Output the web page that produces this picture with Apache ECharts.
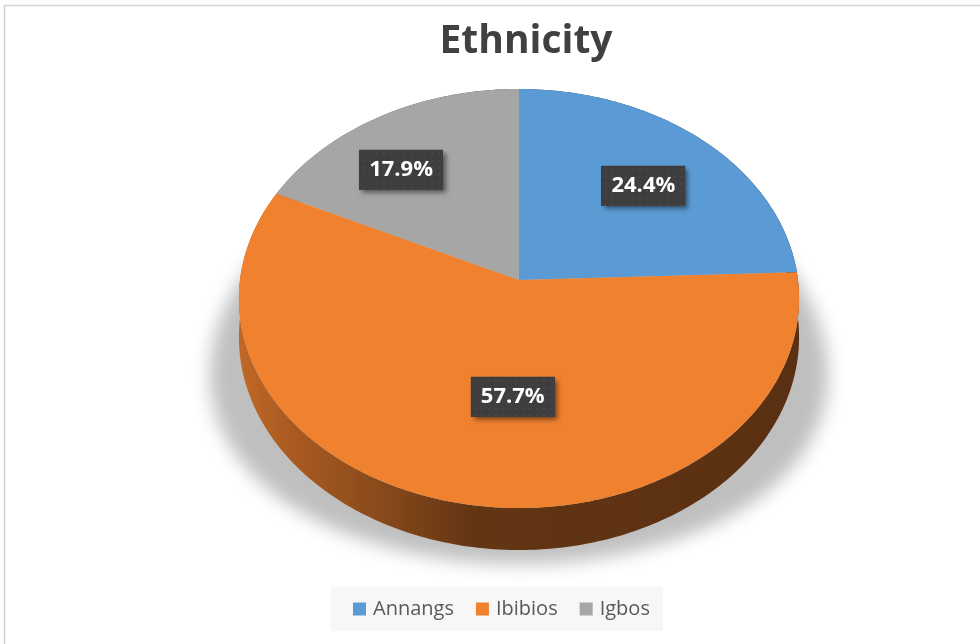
<!DOCTYPE html>
<html>
<head>
<meta charset="utf-8">
<title>Ethnicity</title>
<script src="https://cdn.jsdelivr.net/npm/echarts@6/dist/echarts.min.js"></script>
<style>
  html, body { margin: 0; padding: 0; background: #ffffff; }
  #chart { width: 980px; height: 644px; }
</style>
</head>
<body>
<div id="chart"></div>
<script>
// Ethnic groups and their share of respondents (%)
const categories = ['Annangs', 'Ibibios', 'Igbos'];
const shares = [24.4, 57.7, 17.9];
const sliceColors = ['#5b9bd5', '#f0812f', '#a6a6a6'];

// Tilted-disc geometry (perspective projection of a flat circular pie)
const GEO = { cx: 519, cy: 280, A: 279, B: 207.9, e: 0.0883, depth: 38.3 };
// Small offsets for the value boxes relative to each slice's mid-angle anchor
const labelNudge = [[0, 2], [34, -28], [-23, 2]];

const total = shares.reduce((s, v) => s + v, 0);
const startOf = shares.map((_, i) => shares.slice(0, i).reduce((s, v) => s + v, 0));

// angle: radians clockwise from the far (top) point; r: radius fraction; dz: drop below top face
function project(angle, r, dz) {
  const X = Math.sin(angle) * r;
  const Y = -Math.cos(angle) * r;
  const w = 1 - GEO.e * Y;
  return [GEO.cx + GEO.A * X / w, GEO.cy + (GEO.B * Y + (dz || 0)) / w];
}

function arcPoints(a, b, r, dz) {
  const n = Math.max(4, Math.ceil((b - a) / (Math.PI / 180)));
  const pts = [];
  for (let k = 0; k <= n; k++) pts.push(project(a + (b - a) * k / n, r, dz));
  return pts;
}

function shade(hex, f) {
  const n = parseInt(hex.slice(1), 16);
  const c = [(n >> 16) & 255, (n >> 8) & 255, n & 255].map(v => Math.round(v * f));
  return 'rgb(' + c.join(',') + ')';
}

function sideGradient(color) {
  return new echarts.graphic.LinearGradient(GEO.cx - GEO.A, 0, GEO.cx + GEO.A, 0, [
    { offset: 0, color: shade(color, 0.80) },
    { offset: 0.1, color: shade(color, 0.70) },
    { offset: 0.25, color: shade(color, 0.57) },
    { offset: 0.42, color: shade(color, 0.41) },
    { offset: 1, color: shade(color, 0.375) }
  ], true);
}

// Dark, finely dotted fill used behind the value labels
function dottedTile(w, h) {
  const c = document.createElement('canvas');
  c.width = w; c.height = h;
  const g = c.getContext('2d');
  g.fillStyle = '#3e3e3e';
  g.fillRect(0, 0, w, h);
  g.fillStyle = '#484848';
  for (let y = 3; y < h; y += 7) {
    for (let x = 3; x < w; x += 7) g.fillRect(x, y, 2, 2);
  }
  return c;
}
const labelTile = dottedTile(85, 40);

function labelStyle(text, withTile) {
  return {
    text: text,
    fill: withTile ? '#ffffff' : 'rgba(0,0,0,0)',
    font: 'bold 22px "Open Sans", sans-serif',
    align: 'center',
    verticalAlign: 'middle',
    lineHeight: 24,
    padding: [8, 10, 8, 10],
    backgroundColor: withTile ? { image: labelTile } : '#3e3e3e',
    shadowBlur: withTile ? 0 : 5,
    shadowColor: 'rgba(0,0,0,0.5)',
    shadowOffsetX: withTile ? 0 : 3,
    shadowOffsetY: withTile ? 0 : 3
  };
}

function makeRenderer(i) {
  return function (params, api) {
    const v = api.value(0);
    const a = startOf[i] / total * Math.PI * 2;
    const b = (startOf[i] + v) / total * Math.PI * 2;
    const color = sliceColors[i];

    const topArc = arcPoints(a, b, 1, 0);
    const bottomArc = arcPoints(a, b, 1, GEO.depth).reverse();
    const mid = (a + b) / 2;
    const anchor = project(mid, 0.67, 0);
    const lx = anchor[0] + labelNudge[i][0];
    const ly = anchor[1] + labelNudge[i][1];
    const text = v.toFixed(1) + '%';

    return {
      type: 'group',
      children: [
        {
          type: 'polygon',
          z2: 1,
          shape: { points: topArc.concat(bottomArc) },
          style: { fill: sideGradient(color) }
        },
        {
          type: 'polygon',
          z2: 5,
          shape: { points: [[GEO.cx, GEO.cy]].concat(topArc) },
          style: { fill: color }
        },
        { type: 'text', z2: 10, x: lx, y: ly, style: labelStyle(text, false) },
        { type: 'text', z2: 11, x: lx, y: ly, style: labelStyle(text, true) }
      ]
    };
  };
}

// Soft floor shadow under the disc (drawn off-canvas, only its shadow lands on the page)
function floorShadowPoints() {
  const pts = arcPoints(0, Math.PI * 2, 1, GEO.depth);
  return pts.map(p => {
    const t = Math.min(1.3, Math.max(0, (p[1] - 170) / 260));
    const k = 1 + 0.15 * t;
    return [GEO.cx + (p[0] - GEO.cx) * k - 3000, p[1] + 14];
  });
}

const chart = echarts.init(document.getElementById('chart'), null, { renderer: 'canvas' });

chart.setOption({
  animation: false,
  backgroundColor: '#ffffff',
  title: {
    text: 'Ethnicity',
    left: 521,
    top: 17,
    textAlign: 'center',
    textStyle: {
      fontFamily: '"Open Sans", sans-serif',
      fontWeight: 'bold',
      fontSize: 39,
      color: '#404040'
    }
  },
  legend: {
    data: categories,
    left: 331,
    top: 587,
    padding: [12, 13, 12, 22],
    backgroundColor: '#f7f7f7',
    itemWidth: 13,
    itemHeight: 13,
    itemGap: 22,
    icon: 'rect',
    textStyle: {
      fontFamily: '"Open Sans", sans-serif',
      fontSize: 20,
      color: '#595959',
      padding: [0, 0, 0, 2]
    }
  },
  graphic: [
    {
      type: 'rect',
      z: 0,
      silent: true,
      shape: { x: 4.5, y: 5.5, width: 2000, height: 2000 },
      style: { fill: null, stroke: '#d4d4d4', lineWidth: 1.5 }
    },
    {
      type: 'polygon',
      z: 0,
      silent: true,
      shape: { points: floorShadowPoints() },
      style: {
        fill: 'rgba(0,0,0,0.5)',
        shadowColor: 'rgba(0,0,0,0.5)',
        shadowBlur: 18,
        shadowOffsetX: 3000
      }
    }
  ],
  series: categories.map((name, i) => ({
    type: 'custom',
    name: name,
    coordinateSystem: 'none',
    z: 2,
    itemStyle: { color: sliceColors[i] },
    data: [[shares[i]]],
    renderItem: makeRenderer(i)
  }))
});
</script>
</body>
</html>
